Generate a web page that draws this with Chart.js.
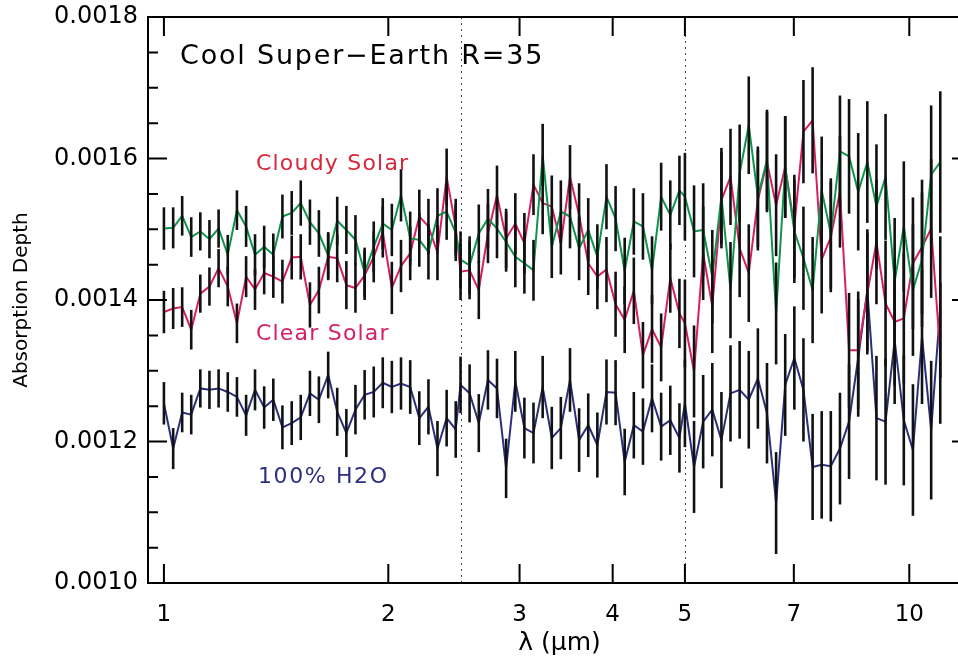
<!DOCTYPE html>
<html>
<head>
<meta charset="utf-8">
<title>Cool Super-Earth R=35</title>
<script src="https://cdn.jsdelivr.net/npm/chart.js@4.4.1/dist/chart.umd.min.js"></script>
<style>
html, body { margin: 0; padding: 0; background: #fff; overflow: hidden; }
#wrap { width: 990px; height: 656px; }
</style>
</head>
<body>
<div id="wrap"><canvas id="spectrum" width="990" height="656"></canvas></div>
<script>
/***** Data *****/
// wavelength grid (micron), three bands: 1-2.5, 2.5-5, 5-11
const WAVELENGTH = [
    1.000, 1.029, 1.058, 1.088, 1.119, 1.151, 1.184, 1.218, 1.253, 1.289, 1.325,
    1.363, 1.402, 1.442, 1.484, 1.526, 1.570, 1.614, 1.661, 1.708, 1.757, 1.807,
    1.859, 1.912, 1.966, 2.022, 2.080, 2.140, 2.201, 2.264, 2.328, 2.395, 2.463,
    2.500, 2.571, 2.645, 2.721, 2.798, 2.878, 2.961, 3.045, 3.132, 3.222, 3.314,
    3.408, 3.506, 3.606, 3.709, 3.815, 3.924, 4.036, 4.151, 4.270, 4.392, 4.517,
    4.646, 4.779, 4.916,
    5.000, 5.143, 5.290, 5.441, 5.597, 5.756, 5.921, 6.090, 6.264, 6.443, 6.627,
    6.816, 7.011, 7.211, 7.418, 7.629, 7.847, 8.072, 8.302, 8.540, 8.784, 9.035,
    9.293, 9.558, 9.832, 10.113, 10.401, 10.699, 11.004
];
// absorption depth, in units of 1e-4
const CLOUDY_SOLAR = [
    15.01, 15.02, 15.19, 14.89, 14.97, 14.86, 15.01, 14.64, 15.27, 15.04, 14.64,
    14.75, 14.64, 15.18, 15.23, 15.37, 15.10, 14.94, 14.63, 15.12, 14.99, 14.85,
    14.39, 14.75, 15.08, 14.99, 15.48, 14.87, 14.85, 14.68, 15.19, 15.25, 14.95,
    14.57, 14.49, 14.94, 15.15, 15.01, 14.82, 14.61, 14.52, 14.42, 16.05, 14.75,
    15.25, 15.18, 14.73, 14.99, 14.61, 15.46, 15.15, 14.41, 15.11, 15.04, 14.42,
    15.46, 15.20, 15.55,
    15.46, 14.97, 14.99, 14.33, 15.47, 14.14, 15.79, 16.47, 15.46, 15.98, 13.81,
    15.88, 14.97, 14.59, 14.14, 15.55, 14.94, 16.10, 16.03, 15.53, 15.95, 15.32,
    15.74, 14.26, 15.04, 14.14, 14.57, 15.77, 15.95
];
const CLEAR_SOLAR = [
    13.83, 13.88, 13.90, 13.58, 14.09, 14.19, 14.45, 14.19, 13.67, 14.33, 14.15,
    14.38, 14.33, 14.26, 14.60, 14.61, 13.93, 14.14, 14.61, 14.59, 14.21, 14.17,
    14.35, 14.61, 14.96, 14.17, 14.48, 14.66, 15.18, 15.04, 14.67, 15.74, 15.03,
    14.40, 14.42, 14.14, 14.94, 15.48, 14.87, 15.08, 14.80, 15.63, 15.37, 15.32,
    14.80, 15.74, 15.20, 14.52, 14.33, 14.43, 13.94, 13.72, 14.13, 13.22, 13.59,
    13.33, 14.31, 13.81,
    13.67, 12.99, 14.66, 13.91, 15.41, 15.74, 14.73, 14.38, 15.41, 15.95, 15.34,
    15.88, 15.04, 16.38, 16.54, 14.57, 14.89, 15.53, 13.29, 13.29, 14.09, 14.82,
    13.95, 13.69, 13.74, 14.52, 14.75, 15.01, 13.25
];
const WATER_100 = [
    12.54, 11.90, 12.41, 12.38, 12.75, 12.73, 12.75, 12.70, 12.63, 12.37, 12.73,
    12.48, 12.59, 12.20, 12.26, 12.34, 12.68, 12.59, 12.94, 12.42, 12.12, 12.45,
    12.66, 12.70, 12.83, 12.77, 12.82, 12.77, 12.33, 12.49, 11.90, 12.33, 12.17,
    12.80, 12.68, 12.26, 12.87, 12.75, 11.62, 12.85, 12.19, 12.12, 12.77, 12.05,
    12.19, 12.87, 12.02, 12.23, 11.95, 12.70, 12.69, 11.71, 12.23, 12.14, 12.61,
    12.21, 12.30, 12.05,
    12.54, 11.64, 12.28, 12.45, 12.02, 12.68, 12.73, 12.59, 12.89, 12.40, 11.13,
    12.80, 13.18, 12.73, 11.64, 11.67, 11.65, 11.90, 12.28, 13.18, 14.14, 12.33,
    12.28, 13.43, 12.30, 11.88, 13.48, 12.16, 13.90
];
// 1-sigma error on depth (units of 1e-4), same for every model
const DEPTH_ERR = [
    0.30, 0.29, 0.28, 0.28, 0.27, 0.27, 0.27, 0.28, 0.28, 0.29, 0.29,
    0.30, 0.30, 0.31, 0.31, 0.32, 0.32, 0.33, 0.33, 0.34, 0.34, 0.35,
    0.35, 0.36, 0.36, 0.37, 0.37, 0.38, 0.38, 0.39, 0.39, 0.40, 0.40,
    0.40, 0.41, 0.41, 0.42, 0.42, 0.42, 0.43, 0.43, 0.43, 0.44, 0.44,
    0.44, 0.45, 0.45, 0.45, 0.46, 0.46, 0.46, 0.47, 0.47, 0.47, 0.48,
    0.48, 0.49, 0.49,
    0.62, 0.65, 0.66, 0.66, 0.68, 0.68, 0.69, 0.69, 0.71, 0.71, 0.72,
    0.72, 0.73, 0.73, 0.75, 0.76, 0.78, 0.79, 0.81, 0.83, 0.86, 0.88,
    0.89, 0.90, 0.92, 0.93, 0.95, 0.98, 1.00
];
const X_TICKS = [1, 2, 3, 4, 5, 7, 10];
const Y_TICKS = [10, 12, 14, 16, 18];
const Y_MINOR = [10.5, 11, 11.5, 12.5, 13, 13.5, 14.5, 15, 15.5, 16.5, 17, 17.5];
const BAND_EDGES = [2.5, 5];

const FONT = "'DejaVu Sans', sans-serif";

function toPoints(vals) {
    return WAVELENGTH.map(function (w, i) { return {x: w, y: vals[i]}; });
}

function spacedText(ctx, text, x, y, spacing) { //fillText with letter spacing
    ctx.letterSpacing = spacing + 'px';
    ctx.fillText(text, x, y);
    ctx.letterSpacing = '0px';
}

//Error bars, box, inward ticks, band edges and labels
const framePlugin = {
    id: 'frame',
    beforeDatasetsDraw: function (chart) {
        let ctx = chart.ctx, a = chart.chartArea, xs = chart.scales.x;
        ctx.save();
        ctx.strokeStyle = '#444';
        ctx.lineWidth = 1;
        ctx.setLineDash([2, 4]);
        BAND_EDGES.forEach(function (v) {
            let px = Math.round(xs.getPixelForValue(v)) + 0.5;
            ctx.beginPath();
            ctx.moveTo(px, a.top);
            ctx.lineTo(px, a.bottom);
            ctx.stroke();
        });
        ctx.restore();
    },
    afterDatasetDraw: function (chart, args) {
        let ctx = chart.ctx, ys = chart.scales.y;
        let ds = chart.data.datasets[args.index];
        ctx.save();
        ctx.strokeStyle = '#111';
        ctx.lineWidth = 2.6;
        args.meta.data.forEach(function (pt, i) {
            let v = ds.data[i].y, e = DEPTH_ERR[i];
            ctx.beginPath();
            ctx.moveTo(pt.x, ys.getPixelForValue(v - e));
            ctx.lineTo(pt.x, ys.getPixelForValue(v + e));
            ctx.stroke();
        });
        ctx.restore();
    },
    afterDraw: function (chart) {
        let ctx = chart.ctx, a = chart.chartArea;
        let xs = chart.scales.x, ys = chart.scales.y;
        ctx.save();
        ctx.strokeStyle = '#000';
        ctx.lineWidth = 2;
        ctx.strokeRect(a.left, a.top, a.right - a.left, a.bottom - a.top);
        ctx.beginPath();
        Y_TICKS.forEach(function (v) {
            let py = ys.getPixelForValue(v);
            ctx.moveTo(a.left, py); ctx.lineTo(a.left + 19, py);
            ctx.moveTo(a.right, py); ctx.lineTo(a.right - 19, py);
        });
        Y_MINOR.forEach(function (v) {
            let py = ys.getPixelForValue(v);
            ctx.moveTo(a.left, py); ctx.lineTo(a.left + 10, py);
            ctx.moveTo(a.right, py); ctx.lineTo(a.right - 10, py);
        });
        X_TICKS.forEach(function (v) {
            let px = xs.getPixelForValue(v);
            ctx.moveTo(px, a.bottom); ctx.lineTo(px, a.bottom - 19);
            ctx.moveTo(px, a.top); ctx.lineTo(px, a.top + 19);
        });
        ctx.stroke();

        ctx.textBaseline = 'middle';
        ctx.textAlign = 'left';
        ctx.fillStyle = '#000';
        ctx.font = '27px ' + FONT;
        spacedText(ctx, 'Cool Super\u2212Earth R=35', a.left + 32, a.top + 40, 1.8);
        ctx.font = '22px ' + FONT;
        ctx.fillStyle = '#d8283c';
        spacedText(ctx, 'Cloudy Solar', a.left + 108, a.top + 147, 1.2);
        ctx.fillStyle = '#d61e66';
        spacedText(ctx, 'Clear Solar', a.left + 108, a.top + 317, 1.2);
        ctx.fillStyle = '#2d3080';
        spacedText(ctx, '100% H2O', a.left + 110, a.top + 460, 1.6);
        ctx.restore();
    }
};

new Chart('spectrum', {
    type: 'line',
    data: {
        datasets: [
            {label: 'Cloudy Solar', data: toPoints(CLOUDY_SOLAR), borderColor: '#0f944c'},
            {label: 'Clear Solar', data: toPoints(CLEAR_SOLAR), borderColor: '#d81e63'},
            {label: '100% H2O', data: toPoints(WATER_100), borderColor: '#2b2f7a'}
        ]
    },
    options: {
        responsive: false,
        animation: false,
        layout: {padding: {top: 17, right: 19, left: 0, bottom: 0}},
        elements: {
            point: {radius: 0},
            line: {borderWidth: 2, tension: 0}
        },
        plugins: {legend: {display: false}, tooltip: {enabled: false}},
        scales: {
            x: {
                type: 'logarithmic',
                min: 0.952,
                max: 12.1,
                grid: {display: false},
                border: {display: false},
                afterBuildTicks: function (axis) {
                    axis.ticks = X_TICKS.map(function (v) { return {value: v}; });
                },
                afterFit: function (axis) { axis.height = 73; },
                ticks: {
                    autoSkip: false, maxRotation: 0, padding: 10, color: '#000',
                    font: {family: FONT, size: 23},
                    callback: function (v) { return String(v); }
                },
                title: {
                    display: true, text: '\u03bb (\u03bcm)', color: '#000',
                    font: {family: FONT, size: 25, lineHeight: 1}, padding: {top: 0, bottom: 0}
                }
            },
            y: {
                min: 10,
                max: 18,
                grid: {display: false},
                border: {display: false},
                afterBuildTicks: function (axis) {
                    axis.ticks = Y_TICKS.map(function (v) { return {value: v}; });
                },
                afterFit: function (axis) { axis.width = 148; },
                ticks: {
                    padding: 2, color: '#000',
                    font: {family: FONT, size: 24},
                    callback: function (v) { return (v / 10000).toFixed(4); }
                },
                title: {
                    display: true, text: 'Absorption Depth', color: '#000',
                    font: {family: FONT, size: 20}, padding: {top: 10, bottom: 0}
                }
            }
        }
    },
    plugins: [framePlugin]
});
</script>
</body>
</html>
